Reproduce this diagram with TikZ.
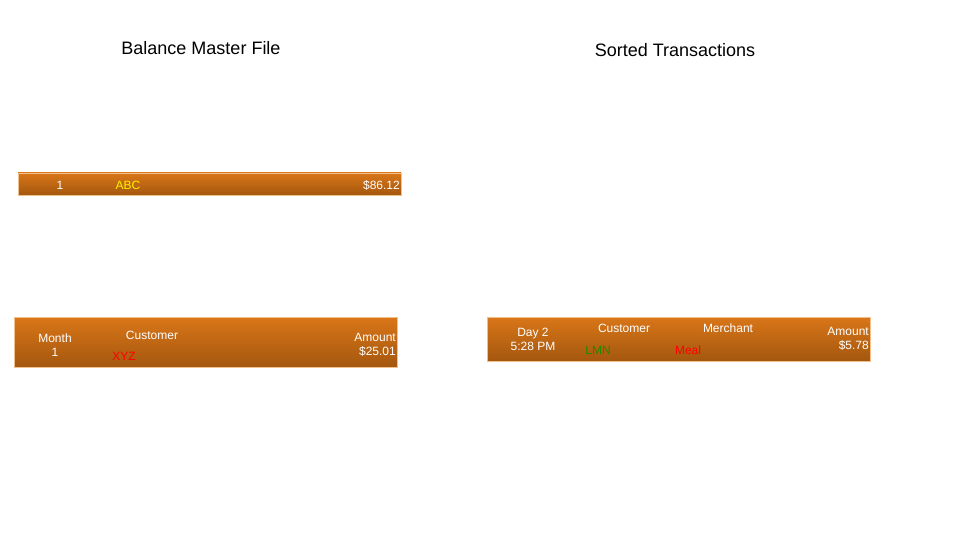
\documentclass[tikz,border=0pt]{standalone}
\usepackage{fontspec}
\setmainfont{Liberation Sans}
\definecolor{barTop}{HTML}{D97618}
\definecolor{barBot}{HTML}{A4570F}
\definecolor{barEdge}{HTML}{F2C08A}
\definecolor{custGreen}{HTML}{1E8A00}
\begin{document}
\begin{tikzpicture}
		[x=1pt,y=-1pt,
		 bar/.style={draw=barEdge,line width=0.8pt,top color=barTop,bottom color=barBot},
		 title/.style={font=\fontsize{18}{20}\selectfont},
		 cell/.style={font=\fontsize{12}{14}\selectfont,inner sep=0pt,white,align=center}]
		\useasboundingbox (0,0) rectangle (960,540);
		% titles
		\node[title] (mtitle) at (201,48) {Balance Master File};
		\node[title] (ttitle) at (675,50) {Sorted Transactions};

		% master record
		\fill[bar] (18,173) rectangle (401,195);
		\node[cell] (mnum) at (60,185) {1};
		\node[cell,yellow] (mcust) at (128,185) {ABC};
		\node[cell,anchor=east] (mamt) at (400,185) {\$86.12};

		% incoming record
		\fill[bar] (14,317) rectangle (397,367);
		\node[cell] (imonth) at (55,345) {Month\\1};
		\node[cell] (icust) at (152,335) {Customer};
		\node[cell,red] (icustv) at (124,356) {XYZ};
		\node[cell,anchor=east,align=right] (iamt) at (396,345) {Amount\\\$25.01};

		% transaction record
		\fill[bar] (487,317) rectangle (870,361);
		\node[cell] (tday) at (533,339) {Day 2\\5:28 PM};
		\node[cell] (tcust) at (624,328) {Customer};
		\node[cell,custGreen] (tcustv) at (598,350) {LMN};
		\node[cell] (tmerch) at (728,328) {Merchant};
		\node[cell,red] (tmerchv) at (688,350) {Meal};
		\node[cell,anchor=east,align=right] (tamt) at (869,339) {Amount\\\$5.78};
	\end{tikzpicture}
\end{document}
